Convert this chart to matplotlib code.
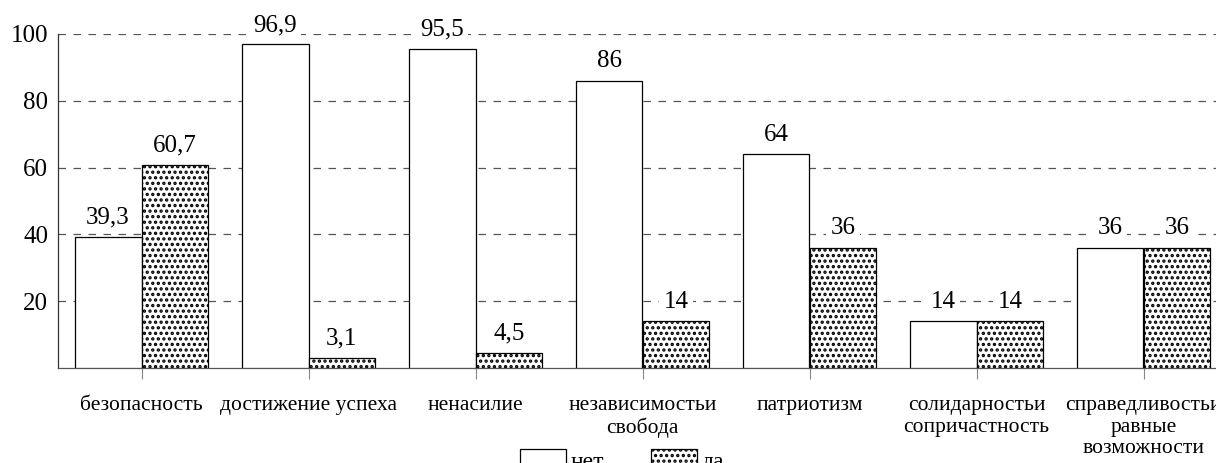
import numpy as np
import matplotlib
matplotlib.use('Agg')
import matplotlib.pyplot as plt

categories = ['безопасность', 'достижение успеха', 'ненасилие',
              'независимостьи\nсвобода', 'патриотизм',
              'солидарностьи\nсопричастность',
              'справедливостьи\nравные\nвозможности']
net = [39.3, 96.9, 95.5, 86, 64, 14, 36]
da = [60.7, 3.1, 4.5, 14, 36, 14, 36]
net_labels = ['39,3', '96,9', '95,5', '86', '64', '14', '36']
da_labels = ['60,7', '3,1', '4,5', '14', '36', '14', '36']
yticks = [20, 40, 60, 80, 100]

plt.rcParams['font.family'] = ['Liberation Serif', 'DejaVu Serif']
plt.rcParams['hatch.linewidth'] = 1.6
plt.rcParams['hatch.color'] = 'black'

fig = plt.figure(figsize=(12.16, 4.63), dpi=100)
ax = fig.add_axes([58 / 1216, 95 / 463, 1169 / 1216, 334 / 463])

x = np.arange(len(categories))
w = 0.4
b1 = ax.bar(x - w / 2, net, w, color='white', edgecolor='black', linewidth=0.9,
            label='нет', zorder=3)
b2 = ax.bar(x + w / 2, da, w, color='white', edgecolor='black', linewidth=0.9,
            hatch='...', label='да', zorder=3)

# value labels with white background so the grid is cut around them
for bars, labs in ((b1, net_labels), (b2, da_labels)):
    for r, lab in zip(bars, labs):
        ax.annotate(lab, (r.get_x() + r.get_width() / 2, r.get_height()),
                    xytext=(0, 6), textcoords='offset points',
                    ha='center', va='bottom', fontsize=18, zorder=4,
                    annotation_clip=False,
                    bbox=dict(facecolor='white', edgecolor='none', pad=3))

ax.set_xlim(-0.5, len(categories) - 0.5)
ax.set_ylim(0, 100)
ax.set_yticks(yticks)
ax.set_yticklabels([str(v) for v in yticks], fontsize=18)
ax.set_xticks(x)
ax.set_xticklabels(categories, fontsize=15.5, linespacing=1.2)
ax.tick_params(axis='x', length=8, color='#888888', pad=12)
ax.tick_params(axis='y', length=0, pad=7)

ax.yaxis.grid(True, linestyle=(0, (6, 6)), color='#555555', linewidth=0.9, zorder=0)
ax.set_axisbelow(True)
for s in ('top', 'right'):
    ax.spines[s].set_visible(False)
ax.spines['left'].set_color('#333333')
ax.spines['bottom'].set_color('#555555')
ax.spines['left'].set_linewidth(0.9)
ax.spines['bottom'].set_linewidth(0.9)

fig.legend(handles=[b1, b2], loc='upper center', ncol=2, frameon=False,
           bbox_to_anchor=(622 / 1216, 14 / 463), fontsize=17,
           handlelength=1.95, handleheight=1.1, handletextpad=0.2,
           columnspacing=2.0, borderaxespad=0, borderpad=0)

plt.savefig('out.png', dpi=100)
